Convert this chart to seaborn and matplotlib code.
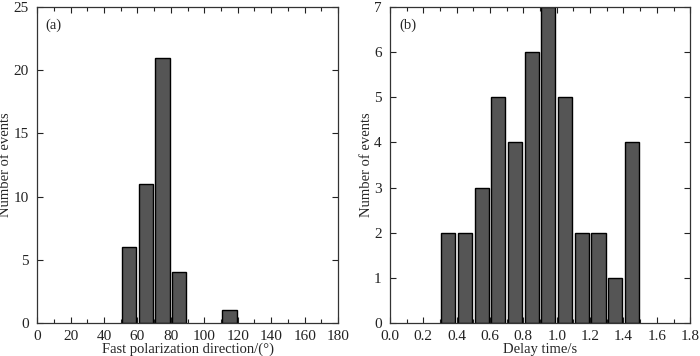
import matplotlib
matplotlib.use("Agg")
import matplotlib.pyplot as plt
import seaborn as sns
import pandas as pd
from matplotlib.ticker import MultipleLocator

# Data
fpd_centers = [55, 65, 75, 85, 115]
fpd_counts = [6, 11, 21, 4, 1]
dt_centers = [0.35, 0.45, 0.55, 0.65, 0.75, 0.85, 0.95, 1.05, 1.15, 1.25, 1.35, 1.45]
dt_counts = [2, 2, 3, 5, 4, 6, 7, 5, 2, 2, 1, 4]

sns.set_theme(style="white")
plt.rcParams['font.family'] = ['Liberation Serif', 'DejaVu Serif']
plt.rcParams['mathtext.fontset'] = 'stix'

fig = plt.figure(figsize=(7.0, 3.56), dpi=100)
ax1 = fig.add_axes([0.053, 0.093, 0.430, 0.887])
ax2 = fig.add_axes([0.557, 0.093, 0.429, 0.887])

bar_color = '#555555'

df1 = pd.DataFrame({'x': fpd_centers, 'y': fpd_counts})
sns.barplot(data=df1, x='x', y='y', native_scale=True, ax=ax1, color=bar_color,
            edgecolor='black', linewidth=1.0, saturation=1, width=0.85)
df2 = pd.DataFrame({'x': dt_centers, 'y': dt_counts})
sns.barplot(data=df2, x='x', y='y', native_scale=True, ax=ax2, color=bar_color,
            edgecolor='black', linewidth=1.0, saturation=1, width=0.85)

LBL = 10.5
TCK = 11

ax1.set_xlim(0, 180)
ax1.set_ylim(0, 25)
ax1.xaxis.set_major_locator(MultipleLocator(20))
ax1.xaxis.set_minor_locator(MultipleLocator(10))
ax1.yaxis.set_major_locator(MultipleLocator(5))
ax1.set_xlabel('Fast polarization direction/(°)', fontsize=LBL, labelpad=0)
ax1.set_ylabel('Number of events', fontsize=LBL, labelpad=1)
ax1.text(0.027, 0.965, '(a)', transform=ax1.transAxes, fontsize=LBL, va='top', ha='left')

ax2.set_xlim(0, 1.8)
ax2.set_ylim(0, 7)
ax2.xaxis.set_major_locator(MultipleLocator(0.2))
ax2.xaxis.set_minor_locator(MultipleLocator(0.1))
ax2.yaxis.set_major_locator(MultipleLocator(1))
ax2.xaxis.set_major_formatter(matplotlib.ticker.FormatStrFormatter('%.1f'))
ax2.set_xlabel('Delay time/s', fontsize=LBL, labelpad=0)
ax2.set_ylabel('Number of events', fontsize=LBL, labelpad=1)
ax2.text(0.03, 0.965, '(b)', transform=ax2.transAxes, fontsize=LBL, va='top', ha='left')

for ax in (ax1, ax2):
    for s in ax.spines.values():
        s.set_visible(True)
        s.set_color('#333333')
        s.set_linewidth(0.9)
    ax.tick_params(which='both', direction='in', top=True, right=True,
                   bottom=True, left=True, colors='#222222', labelsize=TCK)
    ax.tick_params(axis='x', pad=5)
    ax.tick_params(axis='y', pad=6)
    ax.tick_params(which='major', length=4, width=0.8)
    ax.tick_params(which='minor', length=3, width=0.8)

fig.savefig('out.png', dpi=100)
